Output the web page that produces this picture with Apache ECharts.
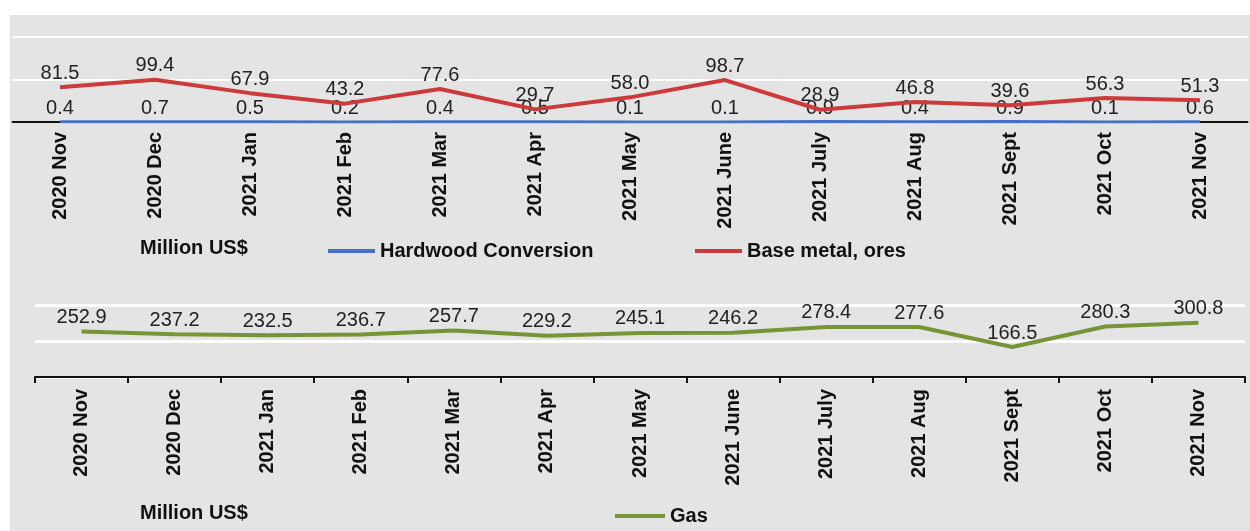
<!DOCTYPE html>
<html><head><meta charset="utf-8">
<script src="https://cdn.jsdelivr.net/npm/echarts@6/dist/echarts.min.js"></script>
<style>html,body{margin:0;padding:0;background:#fff}#c{width:1250px;height:531px}</style>
</head><body><div id="c"></div>
<script>
const categories = ['2020 Nov','2020 Dec','2021 Jan','2021 Feb','2021 Mar','2021 Apr','2021 May','2021 June','2021 July','2021 Aug','2021 Sept','2021 Oct','2021 Nov'];
const hardwood = [0.4,0.7,0.5,0.2,0.4,0.5,0.1,0.1,0.9,0.4,0.9,0.1,0.6];
const baseMetal = [81.5,99.4,67.9,43.2,77.6,29.7,58.0,98.7,28.9,46.8,39.6,56.3,51.3];
const gas = [252.9,237.2,232.5,236.7,257.7,229.2,245.1,246.2,278.4,277.6,166.5,280.3,300.8];
const unitLabel = 'Million US$';

const chart = echarts.init(document.getElementById('c'));
const FONT = '"Liberation Sans", Arial, sans-serif';
const fmt = p => p.value.toFixed(1);
const valLabel = (dist) => ({show:true, position:'top', distance:dist, formatter:fmt, fontFamily:FONT, fontSize:20, color:'#222'});
const xAxisCommon = (gi, ticks, margin) => ({
  type:'category', gridIndex:gi, data:categories, boundaryGap:true,
  axisLine:{show:true, lineStyle:{color:'#111', width:2}},
  axisTick:{show:ticks, length:6, lineStyle:{color:'#111', width:2}},
  axisLabel:{rotate:90, margin:margin, fontFamily:FONT, fontWeight:'bold', fontSize:20, color:'#111', interval:0},
  splitLine:{show:false}
});
chart.setOption({
  animation:false,
  graphic:[
    {type:'rect', left:10, top:15, shape:{width:1240, height:516}, style:{fill:'#e4e4e4'}, z:-10},
    {type:'text', left:140, top:238, style:{text:unitLabel, font:'bold 20px '+FONT, fill:'#111'}},
    {type:'text', left:140, top:503, style:{text:unitLabel, font:'bold 20px '+FONT, fill:'#111'}}
  ],
  grid:[
    {left:12.5, right:2.5, top:37, height:85},
    {left:35, right:5, top:305, height:72}
  ],
  legend:[
    {data:['Hardwood Conversion'], left:323, top:236, icon:'rect', itemWidth:47, itemHeight:4, textStyle:{fontFamily:FONT, fontWeight:'bold', fontSize:20, color:'#111'}},
    {data:['Base metal, ores'], left:690, top:236, icon:'rect', itemWidth:47, itemHeight:4, textStyle:{fontFamily:FONT, fontWeight:'bold', fontSize:20, color:'#111'}},
    {data:['Gas'], left:610, top:501, icon:'rect', itemWidth:50, itemHeight:4, textStyle:{fontFamily:FONT, fontWeight:'bold', fontSize:20, color:'#111'}}
  ],
  xAxis:[xAxisCommon(0,false,10), xAxisCommon(1,true,12)],
  yAxis:[
    {type:'value', gridIndex:0, min:0, max:200, interval:100, axisLabel:{show:false}, axisLine:{show:false}, axisTick:{show:false}, splitLine:{lineStyle:{color:'#ffffff', width:2}}},
    {type:'value', gridIndex:1, min:0, max:400, interval:200, axisLabel:{show:false}, axisLine:{show:false}, axisTick:{show:false}, splitLine:{lineStyle:{color:'#ffffff', width:3}}}
  ],
  series:[
    {name:'Hardwood Conversion', type:'line', xAxisIndex:0, yAxisIndex:0, data:hardwood, symbol:'circle', symbolSize:0, showSymbol:true, lineStyle:{color:'#4472c4', width:3}, itemStyle:{color:'#4472c4'}, label:valLabel(3), z:3},
    {name:'Base metal, ores', type:'line', xAxisIndex:0, yAxisIndex:0, data:baseMetal, symbol:'circle', symbolSize:0, showSymbol:true, lineStyle:{color:'#cc3a3c', width:4}, itemStyle:{color:'#cc3a3c'}, label:valLabel(4), z:4},
    {name:'Gas', type:'line', xAxisIndex:1, yAxisIndex:1, data:gas, symbol:'circle', symbolSize:0, showSymbol:true, lineStyle:{color:'#779536', width:4}, itemStyle:{color:'#779536'}, label:valLabel(4), z:4}
  ]
});
</script></body></html>
